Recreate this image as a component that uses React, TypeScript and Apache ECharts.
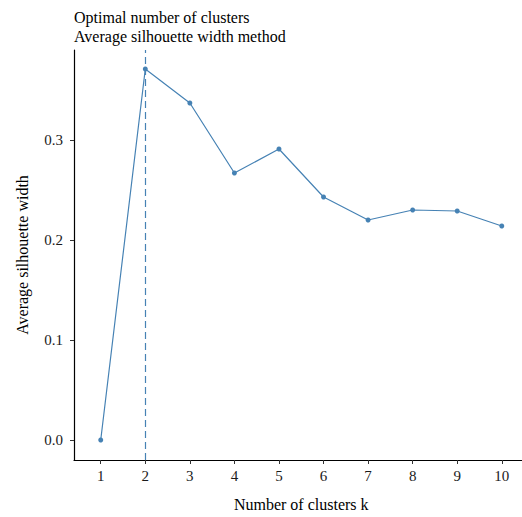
import React, { useEffect, useRef } from "react";
import * as echarts from "echarts";

const clusters = [1, 2, 3, 4, 5, 6, 7, 8, 9, 10];
const silhouette = [0.0, 0.371, 0.337, 0.267, 0.291, 0.243, 0.22, 0.23, 0.229, 0.214];
const yTicks = [0, 0.1, 0.2, 0.3];
const optimalK = 2;
const titleLines = ["Optimal number of clusters", "Average silhouette width method"];

const FONT = "'Liberation Serif', 'DejaVu Serif', serif";
const COLOR = "#4682B4";

export default function App() {
  const ref = useRef<HTMLDivElement>(null);
  useEffect(() => {
    document.body.style.margin = "0";
    document.body.style.overflow = "hidden";
    const chart = echarts.init(ref.current!, null, { renderer: "svg" });
    chart.setOption({
      animation: false,
      backgroundColor: "#ffffff",
      title: {
        text: titleLines.join("\n"),
        left: 69,
        top: 3,
        textStyle: { fontFamily: FONT, fontSize: 16, fontWeight: "normal", color: "#000", lineHeight: 19 },
      },
      grid: { left: 74, top: 50, bottom: 57, right: 0.5 },
      xAxis: {
        type: "value",
        min: 0.4,
        max: 10.6,
        name: "Number of clusters k",
        nameLocation: "middle",
        nameGap: 36,
        nameTextStyle: { fontFamily: FONT, fontSize: 16, color: "#000" },
        splitLine: { show: false },
        axisLine: { show: true, onZero: false, lineStyle: { color: "#000", width: 1.2 } },
        axisTick: { show: true, length: 4, customValues: clusters, lineStyle: { color: "#333" } },
        axisLabel: {
          customValues: clusters,
          fontFamily: FONT,
          fontSize: 15,
          color: "#1a1a1a",
          margin: 8,
          formatter: (v: number) => String(v),
        },
      },
      yAxis: {
        type: "value",
        min: -0.02,
        max: 0.39,
        name: "Average silhouette width",
        nameLocation: "middle",
        nameGap: 44,
        nameRotate: 90,
        nameTextStyle: { fontFamily: FONT, fontSize: 16, color: "#000" },
        splitLine: { show: false },
        axisLine: { show: true, onZero: false, lineStyle: { color: "#000", width: 1.2 } },
        axisTick: { show: true, length: 4, customValues: yTicks, lineStyle: { color: "#333" } },
        axisLabel: {
          customValues: yTicks,
          fontFamily: FONT,
          fontSize: 15,
          color: "#1a1a1a",
          margin: 11,
          formatter: (v: number) => v.toFixed(1),
        },
      },
      series: [
        {
          type: "line",
          data: clusters.map((k, i) => [k, silhouette[i]]),
          symbol: "circle",
          symbolSize: 5,
          itemStyle: { color: COLOR },
          lineStyle: { color: COLOR, width: 1.2 },
          markLine: {
            silent: true,
            symbol: "none",
            label: { show: false },
            lineStyle: { color: COLOR, type: [7, 4], width: 1.2 },
            data: [{ xAxis: optimalK }],
          },
        },
      ],
    });
    return () => chart.dispose();
  }, []);
  return <div ref={ref} style={{ width: 529, height: 517 }} />;
}
